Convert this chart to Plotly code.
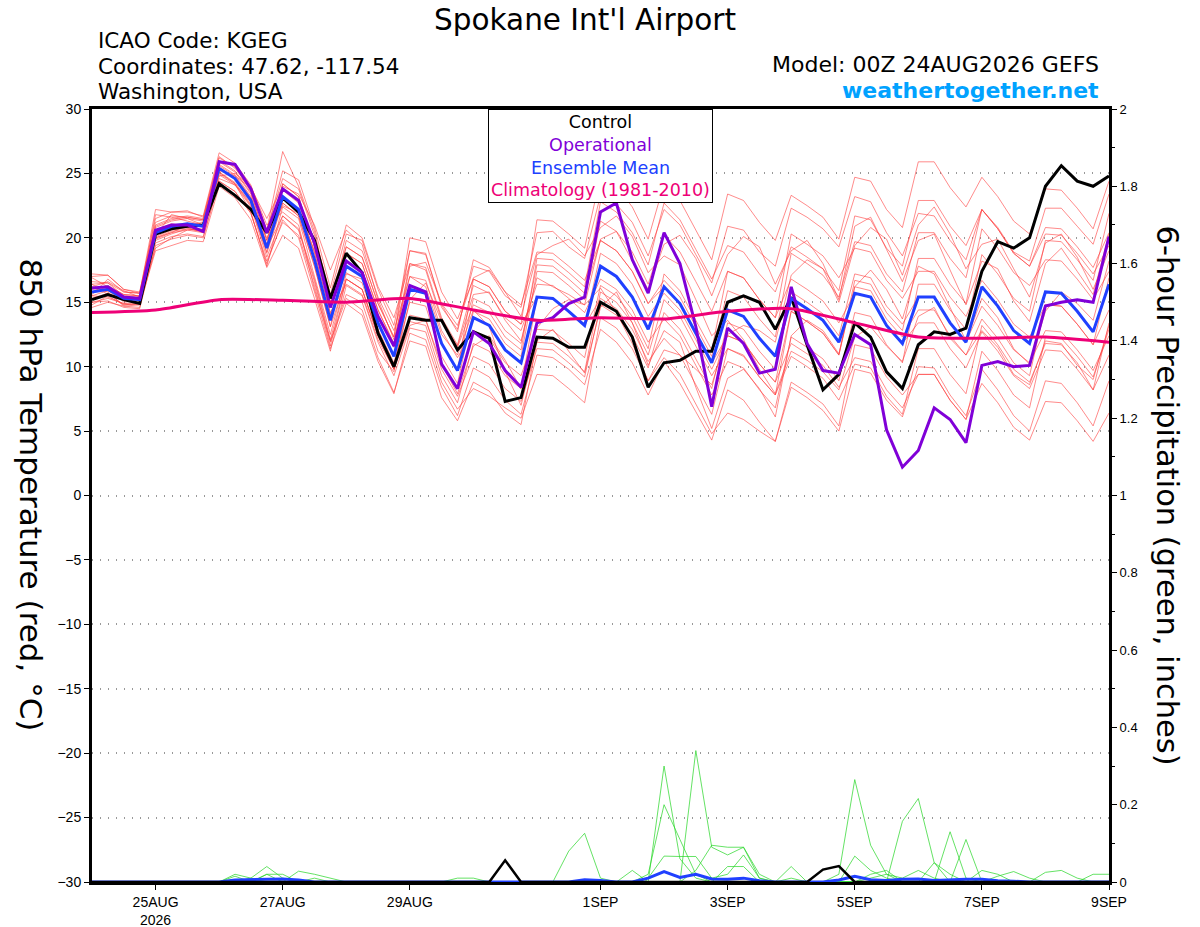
import pandas as pd
import plotly.graph_objects as go

# 6-hourly forecast times, 00Z 24AUG2026 .. 00Z 9SEP2026
times = pd.date_range("2026-08-24 00:00", periods=65, freq="6h")
clim_days = pd.date_range("2026-08-24", periods=17, freq="D")

# 850 hPa temperature (C)
control = [15.2, 15.6, 15.2, 14.9, 20.3, 20.7, 20.9, 21.0, 24.2, 23.3, 22.2, 20.4,
           23.1, 22.0, 19.8, 15.3, 18.8, 17.3, 12.6, 10.0, 13.8, 13.6, 13.6, 11.3,
           12.7, 12.2, 7.3, 7.6, 12.3, 12.2, 11.5, 11.5, 15.0, 14.3, 12.3, 8.4,
           10.3, 10.5, 11.2, 11.2, 15.0, 15.5, 15.0, 12.9, 15.4, 11.7, 8.2, 9.4,
           13.4, 12.3, 9.6, 8.3, 11.7, 12.7, 12.5, 13.0, 17.4, 19.7, 19.2, 20.0,
           24.0, 25.6, 24.4, 24.0, 24.8]
operational = [16.1, 16.2, 15.4, 15.3, 20.6, 21.0, 21.0, 20.5, 25.9, 25.7, 23.8, 20.4,
               23.8, 22.9, 19.6, 14.6, 18.2, 17.3, 13.9, 11.6, 16.3, 15.8, 10.2, 8.3,
               12.7, 11.8, 9.7, 8.4, 13.4, 13.8, 14.9, 15.4, 22.0, 22.7, 18.3, 15.7,
               20.4, 18.0, 13.1, 6.9, 13.0, 11.8, 9.5, 9.8, 16.2, 11.8, 9.7, 9.5,
               12.5, 11.7, 5.1, 2.2, 3.5, 6.8, 5.9, 4.1, 10.1, 10.4, 10.0, 10.1,
               14.7, 15.0, 15.2, 15.0, 20.1]
ens_mean = [15.8, 16.0, 15.3, 15.2, 20.4, 20.9, 21.1, 20.9, 25.4, 24.6, 22.9, 19.2,
            23.2, 22.2, 18.3, 13.6, 17.8, 17.0, 13.4, 10.8, 16.0, 15.7, 11.8, 9.7,
            13.8, 13.2, 11.3, 10.3, 15.4, 15.3, 14.3, 13.2, 17.8, 17.0, 15.4, 12.9,
            16.2, 14.9, 12.6, 10.3, 14.4, 13.9, 12.2, 10.8, 15.3, 14.5, 13.6, 11.9,
            15.7, 15.4, 13.2, 11.8, 15.4, 15.4, 13.4, 11.9, 16.2, 14.7, 12.8, 11.8,
            15.8, 15.7, 14.3, 12.7, 16.4]
climatology = [14.2, 14.4, 15.2, 15.15, 15.0, 15.3, 14.4, 13.6, 13.8, 13.7, 14.3, 14.5,
               13.4, 12.3, 12.2, 12.3, 11.9]

members = [
    [17.0, 17.1, 16.0, 15.8, 21.5, 22.0, 22.1, 21.6, 26.3, 25.4, 23.8, 20.6,
     24.6, 23.8, 20.2, 15.6, 20.3, 19.8, 16.0, 13.2, 19.0, 18.8, 14.6, 12.9,
     17.8, 17.4, 15.5, 14.6, 20.4, 20.5, 19.3, 18.4, 23.3, 22.6, 21.2, 18.6,
     22.2, 21.0, 18.7, 16.5, 20.9, 20.6, 18.9, 17.8, 22.3, 21.6, 20.7, 19.3,
     23.2, 22.8, 20.4, 18.6, 21.9, 21.7, 19.8, 18.3, 22.2, 20.8, 18.9, 18.2,
     22.3, 22.3, 20.9, 19.5, 23.4],
    [15.0, 15.1, 14.6, 14.5, 19.4, 19.9, 20.2, 20.0, 24.4, 23.6, 21.9, 18.0,
     21.4, 20.0, 15.8, 11.4, 14.9, 14.0, 10.4, 7.9, 12.6, 12.1, 8.4, 6.2,
     9.9, 9.2, 7.4, 6.3, 10.9, 10.7, 9.8, 8.6, 12.9, 11.9, 10.3, 7.8,
     10.4, 8.7, 6.5, 4.3, 8.2, 7.4, 5.7, 4.2, 8.4, 7.6, 6.6, 5.0,
     9.8, 9.5, 7.4, 6.1, 10.0, 9.9, 7.8, 6.2, 9.8, 8.2, 6.2, 5.0,
     8.9, 8.7, 7.2, 5.4, 8.9],
    [16.4, 16.5, 15.8, 15.7, 21.0, 21.5, 21.7, 21.5, 26.2, 25.5, 23.6, 20.5,
     25.2, 24.5, 20.8, 16.1, 21.0, 20.0, 16.2, 13.8, 18.0, 17.5, 13.6, 11.5,
     14.8, 14.2, 12.3, 11.3, 18.4, 18.3, 17.3, 16.2, 22.8, 22.0, 20.4, 17.9,
     22.7, 21.4, 19.1, 16.8, 19.4, 18.9, 17.2, 15.8, 19.3, 18.5, 17.6, 15.9,
     21.7, 21.4, 19.2, 17.8, 22.9, 22.9, 20.9, 19.4, 22.2, 20.7, 18.8, 17.8,
     20.3, 20.2, 18.8, 17.2, 19.4],
    [15.3, 15.7, 14.8, 14.9, 20.1, 20.6, 20.8, 20.4, 24.9, 24.1, 22.4, 18.5,
     21.7, 20.6, 16.6, 11.9, 15.3, 14.4, 10.7, 8.0, 12.0, 11.6, 7.6, 5.8,
     8.8, 8.1, 6.4, 5.5, 11.9, 11.8, 10.8, 9.6, 15.8, 15.0, 13.4, 10.9,
     15.2, 13.9, 11.6, 9.3, 11.4, 10.8, 9.2, 7.8, 10.8, 10.0, 9.1, 7.4,
     10.2, 9.9, 7.7, 6.3, 11.4, 11.4, 9.4, 7.9, 13.2, 11.7, 9.8, 8.8,
     11.8, 11.7, 10.3, 8.2, 10.9],
    [16.0, 16.3, 15.6, 15.5, 20.8, 21.3, 21.5, 21.3, 26.0, 25.2, 23.5, 19.8,
     24.2, 23.2, 19.3, 14.6, 19.3, 18.5, 14.9, 12.3, 19.0, 18.7, 14.8, 12.7,
     18.3, 17.7, 15.8, 14.8, 18.9, 18.8, 17.8, 16.7, 19.8, 19.0, 17.4, 14.9,
     16.7, 15.4, 13.1, 10.8, 15.9, 15.4, 13.7, 12.3, 18.8, 18.0, 17.1, 15.4,
     19.7, 19.4, 17.2, 15.8, 20.4, 20.4, 18.4, 16.9, 22.2, 20.7, 18.8, 17.8,
     20.8, 20.7, 19.3, 17.7, 20.4],
    [15.5, 15.4, 14.9, 14.8, 19.8, 20.3, 20.7, 20.5, 25.0, 24.2, 22.5, 18.8,
     22.7, 21.7, 17.8, 13.1, 16.8, 16.0, 12.4, 9.8, 14.0, 13.7, 9.8, 7.7,
     10.8, 10.2, 8.3, 7.3, 11.4, 11.3, 10.3, 9.2, 14.8, 14.0, 12.4, 9.9,
     14.2, 12.9, 10.6, 8.3, 13.4, 12.9, 11.2, 9.8, 15.8, 15.0, 14.1, 12.4,
     17.2, 16.9, 14.7, 13.3, 15.4, 15.4, 13.4, 11.9, 14.7, 13.2, 11.3, 10.3,
     12.8, 12.7, 11.3, 9.7, 12.4],
    [16.6, 16.5, 15.5, 15.4, 20.9, 21.4, 21.6, 21.4, 25.6, 24.8, 23.1, 19.4,
     22.7, 21.7, 17.8, 13.1, 18.8, 18.0, 14.4, 11.8, 18.0, 17.7, 13.8, 11.7,
     16.3, 15.7, 13.8, 12.8, 16.4, 16.3, 15.3, 14.2, 16.8, 16.0, 14.4, 11.9,
     13.7, 12.4, 10.1, 7.8, 10.4, 9.9, 8.2, 6.8, 12.3, 11.5, 10.6, 8.9,
     14.2, 13.9, 11.7, 10.3, 16.4, 16.4, 14.4, 12.9, 18.7, 17.2, 15.3, 14.3,
     19.8, 19.7, 18.3, 16.7, 21.9],
    [14.8, 15.5, 14.8, 14.9, 19.9, 20.4, 20.6, 20.4, 25.7, 24.9, 23.2, 19.5,
     23.7, 22.7, 18.8, 14.1, 17.3, 16.5, 12.9, 10.3, 15.0, 14.7, 10.8, 8.7,
     14.3, 13.7, 11.8, 10.8, 17.4, 17.3, 16.3, 15.2, 21.3, 20.5, 18.9, 16.4,
     20.2, 18.9, 16.6, 14.3, 17.4, 16.9, 15.2, 13.8, 16.8, 16.0, 15.1, 13.4,
     15.7, 15.4, 13.2, 11.8, 13.4, 13.4, 11.4, 9.9, 12.7, 11.2, 9.3, 8.3,
     11.3, 11.2, 9.8, 8.2, 13.4],
    [15.8, 16.2, 15.0, 15.2, 20.6, 21.1, 20.8, 20.6, 25.1, 24.3, 22.6, 18.9,
     24.2, 23.2, 19.3, 14.6, 19.8, 19.0, 15.4, 12.8, 17.0, 16.7, 12.8, 10.7,
     12.8, 12.2, 10.3, 9.3, 12.9, 12.8, 11.8, 10.7, 16.3, 15.5, 13.9, 11.4,
     17.2, 15.9, 13.6, 11.3, 17.4, 16.9, 15.2, 13.8, 20.3, 19.5, 18.6, 16.9,
     19.2, 18.9, 16.7, 15.3, 17.4, 17.4, 15.4, 13.9, 16.7, 15.2, 13.3, 12.3,
     14.8, 14.7, 13.3, 11.7, 14.4],
    [16.1, 15.8, 14.7, 14.6, 19.6, 20.1, 20.3, 20.1, 24.4, 23.6, 21.9, 18.2,
     21.2, 20.2, 16.3, 11.6, 16.8, 16.0, 12.4, 9.8, 16.0, 15.7, 11.8, 9.7,
     15.3, 14.7, 12.8, 11.8, 17.9, 17.8, 16.8, 15.7, 19.8, 19.0, 17.4, 14.9,
     16.2, 14.9, 12.6, 10.3, 12.4, 11.9, 10.2, 8.8, 11.8, 11.0, 10.1, 8.4,
     10.7, 10.4, 8.2, 6.8, 9.4, 9.4, 7.4, 5.9, 11.2, 9.7, 7.8, 6.8,
     12.3, 12.2, 10.8, 9.2, 12.9],
    [15.6, 16.8, 15.8, 15.7, 21.2, 21.7, 21.6, 21.4, 25.9, 25.1, 23.4, 19.8,
     23.2, 22.2, 19.0, 15.4, 19.3, 18.5, 14.9, 12.3, 20.0, 19.7, 15.8, 13.7,
     16.8, 16.2, 14.3, 13.3, 15.4, 15.3, 14.3, 13.2, 15.3, 14.5, 12.9, 10.4,
     12.2, 10.9, 8.6, 6.3, 11.4, 10.9, 9.2, 7.8, 14.3, 13.5, 12.6, 10.9,
     16.7, 16.4, 14.2, 12.8, 18.4, 18.4, 16.4, 14.9, 20.7, 19.2, 17.3, 16.3,
     18.3, 18.2, 16.8, 15.2, 17.4],
    [16.4, 15.6, 15.3, 15.2, 20.0, 20.5, 20.7, 20.5, 25.4, 24.6, 22.9, 19.2,
     21.7, 20.7, 16.8, 12.1, 16.8, 16.0, 12.4, 9.8, 13.5, 13.2, 9.3, 7.2,
     11.8, 11.2, 9.3, 8.3, 15.4, 15.3, 14.3, 13.2, 18.8, 18.0, 16.4, 13.9,
     15.7, 14.4, 12.1, 9.8, 12.4, 11.9, 10.2, 8.8, 14.3, 13.5, 12.6, 10.9,
     16.2, 15.9, 13.7, 12.3, 14.4, 14.4, 12.4, 10.9, 13.7, 12.2, 10.3, 9.3,
     14.8, 14.7, 13.3, 11.7, 16.9],
    [17.2, 17.1, 16.0, 15.7, 22.2, 22.0, 22.0, 21.7, 26.6, 25.8, 24.1, 20.6,
     26.7, 24.0, 20.5, 15.0, 18.8, 18.0, 14.4, 11.8, 16.0, 15.7, 11.8, 9.7,
     16.8, 16.2, 14.3, 13.3, 21.4, 21.3, 20.3, 19.2, 24.8, 24.0, 22.4, 19.9,
     24.2, 22.9, 20.6, 18.3, 23.4, 22.9, 21.2, 19.8, 23.3, 22.5, 21.6, 19.9,
     24.7, 24.4, 22.2, 20.8, 25.9, 25.9, 23.9, 22.4, 24.7, 23.2, 21.3, 20.3,
     23.8, 23.7, 22.3, 20.7, 24.4],
    [14.6, 15.0, 14.7, 14.8, 19.0, 19.4, 19.8, 19.7, 24.0, 23.1, 21.4, 17.7,
     20.2, 19.2, 15.3, 11.2, 16.3, 15.5, 11.9, 9.3, 13.0, 12.7, 8.8, 6.7,
     8.3, 7.7, 6.8, 6.0, 9.4, 9.3, 8.3, 7.2, 13.8, 13.0, 11.4, 8.9,
     10.7, 9.4, 7.1, 4.8, 6.4, 5.9, 5.0, 4.2, 8.8, 8.0, 7.1, 5.4,
     11.7, 11.4, 9.2, 7.8, 9.4, 9.4, 7.4, 5.9, 8.7, 7.2, 5.3, 4.3,
     7.3, 7.2, 5.8, 4.2, 6.4],
    [16.9, 16.2, 15.6, 15.5, 21.8, 21.6, 21.3, 21.0, 25.1, 24.2, 22.0, 17.8,
     22.4, 21.5, 17.0, 12.5, 17.2, 16.8, 13.9, 11.5, 17.8, 18.1, 14.9, 13.2,
     16.9, 17.5, 15.8, 13.9, 18.7, 19.4, 19.9, 18.6, 20.8, 21.7, 20.1, 17.3,
     18.6, 17.9, 15.2, 12.4, 13.6, 12.1, 9.8, 7.9, 11.2, 10.5, 9.6, 8.2,
     12.3, 13.1, 11.6, 10.4, 13.9, 14.6, 12.2, 10.9, 12.8, 11.5, 9.4, 8.6,
     12.0, 11.8, 10.1, 9.0, 13.2],
    [15.0, 15.3, 14.9, 15.0, 19.2, 20.0, 20.6, 20.7, 24.6, 24.1, 22.8, 20.0,
     22.5, 21.9, 18.9, 14.2, 16.4, 15.6, 12.1, 9.8, 13.2, 13.6, 10.2, 7.9,
     11.6, 12.4, 10.5, 8.3, 13.0, 14.5, 15.2, 14.8, 19.9, 20.5, 18.2, 16.0,
     19.5, 20.2, 18.4, 15.5, 18.7, 20.1, 19.3, 16.4, 19.0, 19.8, 18.0, 15.2,
     20.9, 21.6, 19.1, 16.6, 19.8, 20.3, 17.5, 14.8, 18.2, 17.6, 15.1, 13.5,
     18.0, 19.2, 17.4, 15.6, 20.3],
    [16.2, 16.6, 15.9, 15.4, 20.0, 20.4, 21.0, 21.2, 25.2, 24.8, 23.9, 21.5,
     24.0, 23.4, 21.0, 17.5, 20.6, 19.5, 15.2, 12.1, 17.0, 16.2, 12.5, 10.9,
     14.4, 13.1, 9.6, 7.0, 12.0, 12.9, 11.2, 9.5, 14.6, 15.8, 13.4, 10.1,
     12.8, 11.9, 8.4, 5.2, 9.1, 9.8, 8.3, 6.1, 12.4, 13.6, 12.8, 11.0,
     16.2, 17.5, 16.0, 13.7, 17.8, 17.2, 14.6, 12.0, 15.3, 13.8, 11.4, 10.2,
     14.3, 15.8, 14.9, 13.6, 18.2],
    [15.5, 15.9, 15.1, 15.1, 20.2, 21.8, 21.5, 21.0, 24.8, 25.0, 24.0, 21.0,
     22.0, 21.0, 16.0, 12.0, 15.6, 15.0, 11.2, 9.6, 15.2, 16.5, 13.5, 11.6,
     15.6, 15.8, 13.6, 12.0, 16.9, 16.2, 15.6, 14.8, 16.1, 14.2, 11.8, 8.9,
     11.3, 10.9, 9.8, 8.6, 12.5, 13.2, 12.8, 11.9, 17.1, 18.3, 17.6, 15.0,
     19.4, 20.8, 19.9, 17.1, 21.0, 22.4, 20.3, 17.6, 19.5, 19.9, 17.6, 15.4,
     19.6, 20.3, 18.5, 16.0, 19.0],
]

# 6-hour precipitation (inches)
control_precip = [0, 0, 0, 0, 0, 0, 0, 0, 0, 0, 0, 0, 0, 0, 0, 0, 0, 0, 0, 0, 0, 0, 0, 0,
                  0, 0, 0.056, 0, 0, 0, 0, 0, 0, 0, 0, 0, 0, 0, 0, 0, 0, 0, 0, 0, 0, 0, 0.032, 0.041,
                  0, 0, 0, 0, 0, 0, 0, 0, 0, 0, 0, 0, 0, 0, 0, 0, 0]
mean_precip = [0, 0, 0, 0, 0, 0, 0, 0, 0, 0.005, 0.006, 0.008, 0.008, 0.005, 0, 0, 0, 0, 0, 0, 0, 0, 0, 0,
               0, 0, 0, 0, 0, 0, 0, 0.006, 0.004, 0, 0, 0.01, 0.027, 0.012, 0.02, 0.008, 0.007, 0.01, 0.003, 0, 0, 0, 0, 0.005,
               0.015, 0.006, 0.004, 0.007, 0.008, 0.004, 0.006, 0.007, 0.007, 0.003, 0.002, 0, 0, 0, 0, 0, 0]
precip_members = [
    [0, 0, 0, 0, 0, 0, 0, 0, 0, 0.02, 0.01, 0.04, 0.01, 0, 0, 0, 0, 0, 0, 0, 0, 0, 0, 0,
     0, 0, 0, 0, 0, 0, 0, 0, 0, 0, 0, 0, 0.30, 0.06, 0.01, 0, 0, 0, 0, 0, 0, 0, 0, 0.02,
     0.265, 0.095, 0.02, 0, 0, 0, 0, 0, 0, 0, 0, 0, 0, 0, 0, 0, 0],
    [0, 0, 0, 0, 0, 0, 0, 0, 0, 0, 0.01, 0, 0, 0.028, 0.02, 0.01, 0, 0, 0, 0, 0, 0, 0, 0,
     0, 0, 0, 0, 0, 0, 0.08, 0.126, 0.01, 0, 0, 0, 0, 0, 0.34, 0.09, 0.07, 0.09, 0.01, 0, 0, 0, 0, 0,
     0, 0, 0, 0, 0, 0, 0, 0, 0, 0, 0, 0, 0, 0, 0, 0, 0],
    [0, 0, 0, 0, 0, 0, 0, 0, 0, 0, 0, 0.02, 0.02, 0, 0, 0, 0, 0, 0, 0, 0, 0, 0, 0,
     0, 0, 0, 0, 0, 0, 0, 0, 0, 0, 0, 0.02, 0.20, 0.11, 0.02, 0, 0, 0, 0, 0, 0, 0, 0, 0,
     0, 0, 0, 0.157, 0.216, 0.05, 0, 0, 0, 0, 0, 0, 0, 0, 0, 0, 0],
    [0, 0, 0, 0, 0, 0, 0, 0, 0, 0, 0, 0, 0, 0, 0, 0, 0, 0, 0, 0, 0, 0, 0, 0,
     0, 0, 0, 0, 0, 0, 0, 0, 0, 0, 0, 0.01, 0.067, 0.066, 0.066, 0.01, 0.02, 0.07, 0.01, 0, 0, 0, 0, 0,
     0, 0, 0, 0, 0, 0, 0.13, 0.01, 0, 0, 0, 0, 0, 0, 0, 0, 0],
    [0, 0, 0, 0, 0, 0, 0, 0, 0, 0, 0, 0, 0, 0, 0, 0, 0, 0, 0, 0, 0, 0, 0, 0,
     0, 0, 0, 0, 0, 0, 0, 0, 0, 0, 0, 0, 0, 0, 0.03, 0.095, 0.09, 0.09, 0.02, 0, 0, 0, 0, 0,
     0.067, 0.03, 0.01, 0, 0, 0, 0, 0.11, 0, 0, 0, 0, 0, 0, 0, 0, 0],
    [0, 0, 0, 0, 0, 0, 0, 0, 0, 0, 0, 0, 0, 0, 0, 0, 0, 0, 0, 0, 0, 0, 0, 0.01,
     0.01, 0, 0, 0, 0, 0, 0, 0, 0, 0, 0, 0, 0, 0, 0, 0, 0.04, 0.04, 0, 0, 0.04, 0, 0, 0,
     0, 0.02, 0.03, 0, 0, 0.05, 0.02, 0, 0, 0.015, 0.027, 0.01, 0, 0, 0, 0, 0],
    [0, 0, 0, 0, 0, 0, 0, 0, 0, 0, 0, 0, 0, 0, 0, 0, 0, 0, 0, 0, 0, 0, 0, 0,
     0, 0, 0, 0, 0, 0, 0, 0, 0, 0, 0.03, 0, 0, 0, 0, 0, 0, 0, 0, 0, 0.01, 0, 0, 0,
     0, 0, 0, 0, 0, 0, 0, 0, 0, 0, 0, 0, 0, 0, 0, 0.02, 0.02],
    [0, 0, 0, 0, 0, 0, 0, 0, 0, 0.015, 0, 0.02, 0, 0, 0.01, 0, 0, 0, 0, 0, 0, 0, 0, 0,
     0, 0, 0, 0, 0, 0, 0, 0, 0, 0, 0, 0, 0, 0, 0, 0, 0, 0, 0, 0, 0, 0, 0, 0,
     0, 0.01, 0.02, 0.01, 0.03, 0.01, 0, 0, 0.03, 0.02, 0, 0, 0.025, 0.03, 0.01, 0, 0],
]

tick_vals = ["2026-08-25", "2026-08-27", "2026-08-29", "2026-09-01", "2026-09-03",
             "2026-09-05", "2026-09-07", "2026-09-09"]
tick_text = ["25AUG<br>2026", "27AUG", "29AUG", "1SEP", "3SEP", "5SEP", "7SEP", "9SEP"]

font = "Liberation Sans, Arial, sans-serif"
wide = "DejaVu Sans, sans-serif"

fig = go.Figure()

# ensemble members (red) and precip members (green)
for m in members:
    fig.add_trace(go.Scatter(x=times, y=m, mode="lines",
                             line=dict(color="rgba(255,60,60,0.75)", width=0.8)))
for p in precip_members:
    fig.add_trace(go.Scatter(x=times, y=p, mode="lines", yaxis="y2",
                             line=dict(color="rgba(40,215,40,0.9)", width=0.8)))

fig.add_trace(go.Scatter(x=times, y=control, mode="lines", line=dict(color="black", width=3)))
fig.add_trace(go.Scatter(x=times, y=ens_mean, mode="lines", line=dict(color="#2040ff", width=3)))
fig.add_trace(go.Scatter(x=times, y=operational, mode="lines", line=dict(color="#8000d8", width=3)))
fig.add_trace(go.Scatter(x=clim_days, y=climatology, mode="lines",
                         line=dict(color="#ee0077", width=3, shape="spline", smoothing=0.6)))

fig.add_trace(go.Scatter(x=times, y=mean_precip, mode="lines", yaxis="y2",
                         line=dict(color="#2040ff", width=3)))
fig.add_trace(go.Scatter(x=times, y=control_precip, mode="lines", yaxis="y2",
                         line=dict(color="black", width=2.5)))

# header texts
def header(text, x, y, anchor, size, color="black"):
    fig.add_annotation(text=text, xref="paper", yref="paper", x=x, y=y,
                       xanchor=anchor, yanchor="middle", showarrow=False,
                       font=dict(family=wide, size=size, color=color))

header("Spokane Int'l Airport", 0.485, 1.1151, "center", 29.5)
header("ICAO Code: KGEG", 0.004, 1.089, "left", 21.5)
header("Coordinates: 47.62, -117.54", 0.004, 1.055, "left", 21.5)
header("Washington, USA", 0.004, 1.022, "left", 21.5)
header("Model: 00Z 24AUG2026 GEFS", 0.9925, 1.058, "right", 22)
header("<b>weathertogether.net</b>", 0.9925, 1.024, "right", 22, "#00a2ff")

# legend box
fig.add_annotation(text="Control<br><span style='color:#8000d8'>Operational</span><br>"
                        "<span style='color:#2040ff'>Ensemble Mean</span><br>"
                        "<span style='color:#ee0077'>Climatology (1981-2010)</span>",
                   xref="paper", yref="paper", x=0.5, y=1.0, xanchor="center", yanchor="top",
                   showarrow=False, align="center", bgcolor="white", bordercolor="black",
                   borderwidth=1, borderpad=2, font=dict(family=wide, size=17.5, color="black"))

# axis titles
fig.add_annotation(text="850 hPa Temperature (red, °C)", xref="paper", yref="paper",
                   x=-0.059, y=0.5, xanchor="center", yanchor="middle", textangle=90,
                   showarrow=False, font=dict(family=wide, size=31, color="black"))
fig.add_annotation(text="6-hour Precipitation (green, inches)", xref="paper", yref="paper",
                   x=1.058, y=0.5, xanchor="center", yanchor="middle", textangle=90,
                   showarrow=False, font=dict(family=wide, size=30.5, color="black"))

fig.update_layout(
    width=1200, height=927,
    margin=dict(l=92, r=91, t=109, b=45),
    paper_bgcolor="white", plot_bgcolor="white",
    showlegend=False,
    font=dict(family=font, size=13, color="black"),
    xaxis=dict(range=["2026-08-24", "2026-09-09"], tickvals=tick_vals, ticktext=tick_text,
               showgrid=False, showline=True, linecolor="black", linewidth=3, mirror=True,
               ticks="outside", ticklen=5, tickcolor="black", tickfont=dict(size=14),
               automargin=False),
    yaxis=dict(range=[-30, 30], dtick=5, showgrid=True, gridcolor="#999999", griddash="1px,7px",
               gridwidth=1.5, zeroline=False, showline=True, linecolor="black", linewidth=3,
               ticks="outside", ticklen=5, tickcolor="black", tickfont=dict(size=14),
               automargin=False),
    yaxis2=dict(range=[0, 2], dtick=0.2, overlaying="y", side="right", showgrid=False,
                zeroline=False, showline=True, linecolor="black", linewidth=3,
                ticks="outside", ticklen=5, tickcolor="black", tickfont=dict(size=13),
                minor=dict(dtick=0.1, ticks="outside", ticklen=3, tickcolor="black"),
                automargin=False),
)

# drop the browser's default page margin so the figure sits at the window corner
fig.write_html("out.html", config={"displayModeBar": False},
               post_script="document.body.style.margin = '0';")
